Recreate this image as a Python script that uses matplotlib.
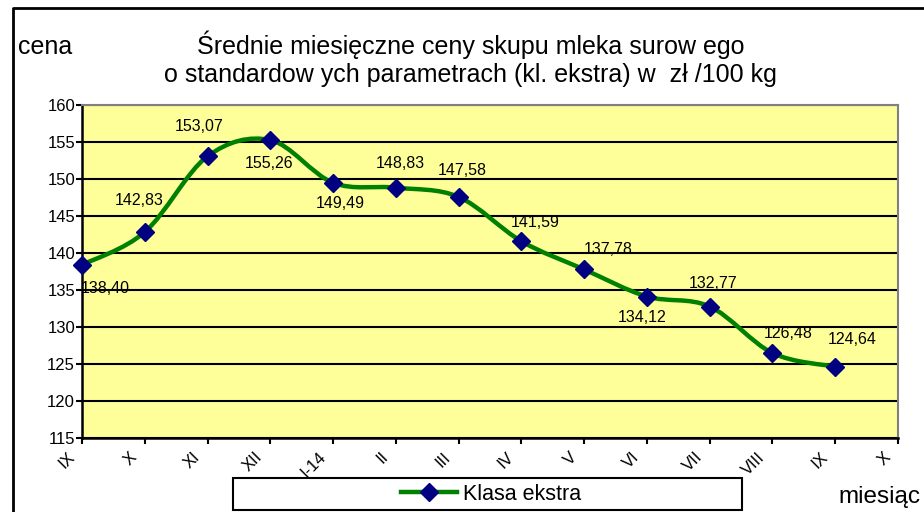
import numpy as np
import matplotlib
matplotlib.use("Agg")
import matplotlib.pyplot as plt
import matplotlib.transforms as mtransforms
from matplotlib.path import Path
from matplotlib.patches import PathPatch, Rectangle
from matplotlib.lines import Line2D

plt.rcParams["font.family"] = ["Liberation Sans", "DejaVu Sans"]

months = ["IX", "X", "XI", "XII", "I-14", "II", "III", "IV", "V", "VI",
          "VII", "VIII", "IX", "X"]
prices = [138.40, 142.83, 153.07, 155.26, 149.49, 148.83, 147.58,
          141.59, 137.78, 134.12, 132.77, 126.48, 124.64]
# label offsets from the marker, in pixels (as placed in the original chart)
label_dx = [23, -6, -8, -1, 7, 4, 4, 14, 24, -5, 3, 16, 17]
label_dy = [-24, 32, 30, -23, -21, 24, 26, 19, 20, -21, 23, 20, 27]

YELLOW = "#FFFF99"
GREEN = "#008000"
NAVY = "#000080"

W, H = 924, 512
fig = plt.figure(figsize=(W / 100, H / 100), dpi=100)
ax = fig.add_axes([82 / W, 1 - 438 / H, (898 - 82) / W, (438 - 105) / H])
ax.set_facecolor(YELLOW)

x = np.arange(len(prices))
y = np.array(prices)

# smoothed line like Excel (cardinal bezier through the points)
verts = [(x[0], y[0])]
codes = [Path.MOVETO]
for i in range(len(x) - 1):
    p0 = (x[max(i - 1, 0)], y[max(i - 1, 0)])
    p1 = (x[i], y[i])
    p2 = (x[i + 1], y[i + 1])
    p3 = (x[min(i + 2, len(x) - 1)], y[min(i + 2, len(x) - 1)])
    c1 = (p1[0] + (p2[0] - p0[0]) / 6, p1[1] + (p2[1] - p0[1]) / 6)
    c2 = (p2[0] - (p3[0] - p1[0]) / 6, p2[1] - (p3[1] - p1[1]) / 6)
    verts += [c1, c2, p2]
    codes += [Path.CURVE4] * 3
ax.add_patch(PathPatch(Path(verts, codes), fill=False, ec=GREEN, lw=3.2,
                       zorder=3, capstyle="round", joinstyle="round"))
ax.plot(x, y, ls="none", marker="D", ms=9.5, mfc=NAVY, mec=NAVY, zorder=4,
        clip_on=False)

for xi, yi, dx, dy in zip(x, y, label_dx, label_dy):
    ax.annotate(f"{yi:.2f}".replace(".", ","), (xi, yi), xytext=(dx, dy),
                textcoords="offset pixels", ha="center", va="center",
                fontsize=11.5, zorder=5, annotation_clip=False)

ax.set_xlim(0, len(months) - 1)
ax.set_ylim(115, 160)
ax.set_yticks(np.arange(115, 161, 5))
ax.set_xticks(np.arange(len(months)))
ax.set_xticklabels(months, rotation=45, ha="right", va="center",
                   rotation_mode="anchor", fontsize=12)
ax.tick_params(axis="x", direction="out", length=4, width=1.5, pad=8)
ax.tick_params(axis="y", direction="out", length=4, width=1.5, labelsize=12,
               pad=1)
shift = mtransforms.ScaledTranslation(-10 / 100, 0, fig.dpi_scale_trans)
for t in ax.get_xticklabels():
    t.set_transform(t.get_transform() + shift)
ax.grid(axis="y", color="black", lw=1.5, zorder=1)
ax.set_axisbelow(True)
for side in ("left", "bottom"):
    ax.spines[side].set_color("black")
    ax.spines[side].set_linewidth(1.8)
for side in ("top", "right"):
    ax.spines[side].set_color("#808080")
    ax.spines[side].set_linewidth(1.5)

# outer chart frame
fig.add_artist(Line2D([13 / W, 13 / W, 1], [0, 1 - 8 / H, 1 - 8 / H],
                      color="black", lw=2, transform=fig.transFigure))

fig.text(471 / W, 1 - 45 / H, "Średnie miesięczne ceny skupu mleka surow ego",
         ha="center", va="center", fontsize=18)
fig.text(470 / W, 1 - 75 / H,
         "o standardow ych parametrach (kl. ekstra) w  zł /100 kg",
         ha="center", va="center", fontsize=18)
fig.text(18 / W, 1 - 47 / H, "cena", ha="left", va="center", fontsize=18)
fig.text(838 / W, 1 - 497 / H, "miesiąc", ha="left", va="center",
         fontsize=17.5)

# legend box
fig.add_artist(Rectangle((233 / W, 1 - 510 / H), (742 - 233) / W, 32 / H,
                         transform=fig.transFigure, fc="white", ec="black",
                         lw=1.5, zorder=10))
h = Line2D([], [], color=GREEN, lw=3.2, marker="D", ms=9.5, mfc=NAVY,
           mec=NAVY)
leg = fig.legend([h], ["Klasa ekstra"], loc="center",
                 bbox_to_anchor=(491 / W, 1 - 494 / H), frameon=False,
                 fontsize=15.5, handlelength=2.6, handletextpad=0.25)
leg.set_zorder(11)

fig.savefig("out.png", dpi=100)
